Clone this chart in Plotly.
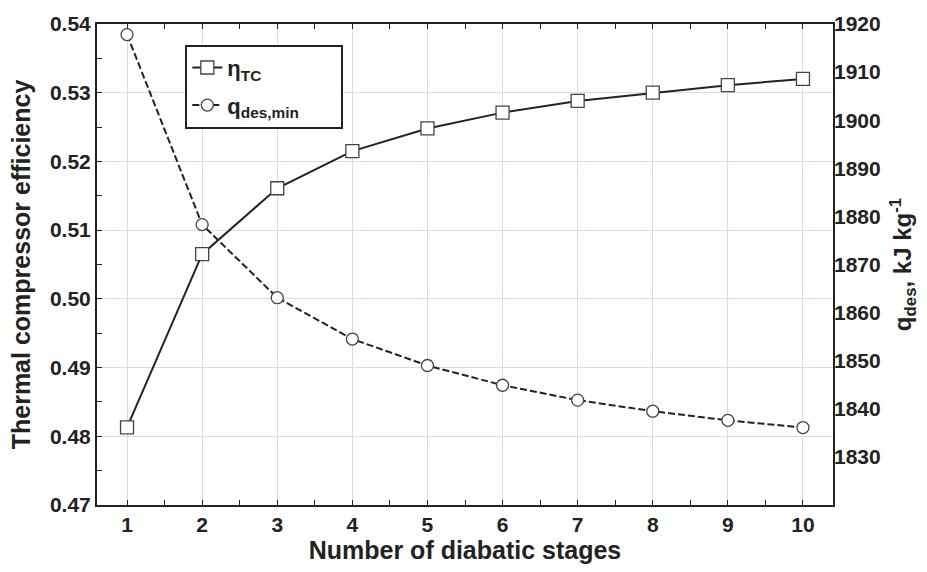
import plotly.graph_objects as go

stages = [1, 2, 3, 4, 5, 6, 7, 8, 9, 10]
eta_tc = [0.4813, 0.5065, 0.5161, 0.5215, 0.5248, 0.5271, 0.5288, 0.5300, 0.5311, 0.5320]
q_des_min = [1917.8, 1878.3, 1863.1, 1854.5, 1849.0, 1844.9, 1841.8, 1839.5, 1837.6, 1836.1]
left_ticks = [0.47, 0.48, 0.49, 0.50, 0.51, 0.52, 0.53, 0.54]
right_ticks = [1830, 1840, 1850, 1860, 1870, 1880, 1890, 1900, 1910, 1920]

FONT = "Liberation Sans, Arial, sans-serif"
INK = "#222222"
GRID = "#e2dada"
PAD = "\u00a0" * 6

fig = go.Figure()
fig.add_trace(go.Scatter(
    x=stages, y=eta_tc, name="<b>η<sub>TC</sub></b>", mode="lines+markers",
    legendgroup="a",
    line=dict(color=INK, width=2),
    marker=dict(symbol="square", size=13, color="white", line=dict(color="#444", width=1.3)),
))
fig.add_trace(go.Scatter(
    x=stages, y=q_des_min, name="<b>q<sub>des,min</sub></b>" + PAD, mode="lines+markers",
    yaxis="y2", legendgroup="b",
    line=dict(color=INK, width=2, dash="7px,3px"),
    marker=dict(symbol="circle", size=12, color="white", line=dict(color="#444", width=1.3)),
))

fig.update_layout(
    width=927, height=572,
    margin=dict(l=97, r=94, t=18, b=64),
    paper_bgcolor="white", plot_bgcolor="white",
    font=dict(family=FONT, color=INK),
    showlegend=True,
    legend=dict(
        x=0.12, y=0.957, xanchor="left", yanchor="top",
        bgcolor="white", bordercolor=INK, borderwidth=2,
        font=dict(family=FONT, size=22, color=INK),
        tracegroupgap=6,
    ),
    xaxis=dict(
        range=[0.6, 10.4], tickvals=stages,
        ticks="inside", ticklen=5, tickcolor=INK, tickwidth=1,
        minor=dict(dtick=0.5, tick0=0, ticks="inside", ticklen=5, tickcolor=INK, showgrid=False),
        showline=True, linewidth=2, linecolor=INK, mirror="ticks",
        showgrid=True, gridcolor=GRID, gridwidth=1, zeroline=False,
        tickfont=dict(family=FONT, size=21, weight="bold", color=INK),
        title=dict(text="<b>Number of diabatic stages</b>", font=dict(family=FONT, size=25, color=INK), standoff=6),
    ),
    yaxis=dict(
        range=[0.47, 0.54], tickvals=left_ticks, tickformat=".2f",
        ticks="inside", ticklen=5, tickcolor=INK,
        minor=dict(dtick=0.005, tick0=0.47, ticks="inside", ticklen=5, tickcolor=INK, showgrid=False),
        showline=True, linewidth=2, linecolor=INK, mirror=True,
        showgrid=True, gridcolor=GRID, gridwidth=1, zeroline=False,
        tickfont=dict(family=FONT, size=21, weight="bold", color=INK),
        title=dict(text="<b>Thermal compressor efficiency</b>", font=dict(family=FONT, size=25, color=INK), standoff=12),
    ),
    yaxis2=dict(
        overlaying="y", side="right",
        range=[1820, 1920], tickvals=right_ticks,
        ticks="", showline=False, showgrid=False, zeroline=False,
        tickfont=dict(family=FONT, size=21, weight="bold", color=INK),
        title=dict(text="<b>q<sub>des</sub>, kJ kg<sup>-1</sup></b>", font=dict(family=FONT, size=24, color=INK), standoff=14),
    ),
)

fig.write_html("out.html")
